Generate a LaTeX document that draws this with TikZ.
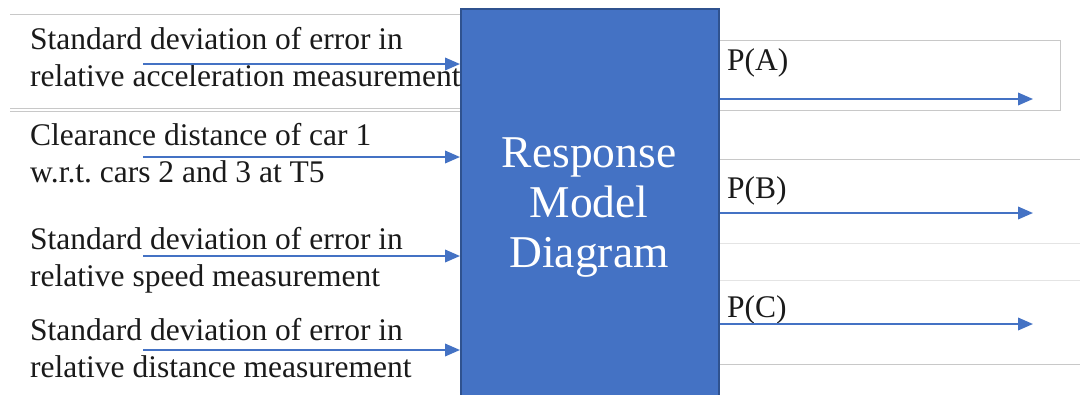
\documentclass[tikz,border=0pt]{standalone}
\usepackage{fontspec}
\setmainfont{Liberation Serif}
\usetikzlibrary{arrows.meta}
\definecolor{boxblue}{HTML}{4472C4}
\definecolor{boxedge}{HTML}{2F528F}
\definecolor{rulegray}{HTML}{C8C8C8}
\definecolor{faintgray}{HTML}{E4E4E4}
\definecolor{inkblack}{HTML}{1A1A1A}
\frenchspacing
\begin{document}
\begin{tikzpicture}[x=1pt,y=-1pt,
  inlabel/.style={anchor=base west, inner sep=0pt, align=left, text=inkblack,
    font=\fontsize{31.5}{37}\selectfont},
  outlabel/.style={anchor=base west, inner sep=0pt, text=inkblack,
    font=\fontsize{31.5}{37}\selectfont},
  modelbox/.style={draw=boxedge, fill=boxblue, line width=1.6pt, inner sep=0pt,
    minimum width=258pt, minimum height=420pt, anchor=north west},
  title/.style={anchor=base, inner sep=0pt, align=center, text=white,
    font=\fontsize{45.5}{50}\selectfont},
  flow/.style={draw=boxblue, line width=2pt,
    -{Triangle[length=15pt,width=12.5pt]}},
  frame/.style={draw=rulegray, line width=1pt},
  faint/.style={draw=faintgray, line width=1pt}]
\clip (0,0) rectangle (1080,394);
\fill[white] (0,0) rectangle (1080,394);

% text-box outlines behind the diagram
\draw[frame] (10,14) -- (460,14);
\draw[frame] (10,108) -- (460,108);
\draw[frame] (10,111) -- (460,111);
\draw[frame] (700,40) rectangle (1060,110);
\draw[frame] (718,159) -- (1080,159);
\draw[faint] (718,243) -- (1080,243);
\draw[faint] (718,280) -- (1080,280);
\draw[frame] (718,364) -- (1080,364);

% central block
\node[modelbox] (model) at (460,8) {};
% the base anchor of a multi-line node sits on its last line
\node[title] (modeltitle) at (589,267) {Response\\Model\\Diagram};

% inputs
\node[inlabel] (lab1) at (30,86) {Standard deviation of error in\\relative acceleration measurement};
\node[inlabel] (lab2) at (30,182) {Clearance distance of car 1\\w.r.t. cars 2 and 3 at T5};
\node[inlabel] (lab3) at (30,286) {Standard deviation of error in\\relative speed measurement};
\node[inlabel] (lab4) at (30,377) {Standard deviation of error in\\relative distance measurement};

\coordinate (in1) at (143,64);
\coordinate (in2) at (143,157);
\coordinate (in3) at (143,256);
\coordinate (in4) at (143,350);
\foreach \k in {1,2,3,4}
  \draw[flow] (in\k) -- (in\k -| model.west);

% outputs
\node[outlabel] (pa) at (727,70) {P(A)};
\node[outlabel] (pb) at (727,198) {P(B)};
\node[outlabel] (pc) at (727,317) {P(C)};

\coordinate (out1) at (1033,99);
\coordinate (out2) at (1033,213);
\coordinate (out3) at (1033,324);
\foreach \k in {1,2,3}
  \draw[flow] (model.east |- out\k) -- (out\k);
\end{tikzpicture}
\end{document}
